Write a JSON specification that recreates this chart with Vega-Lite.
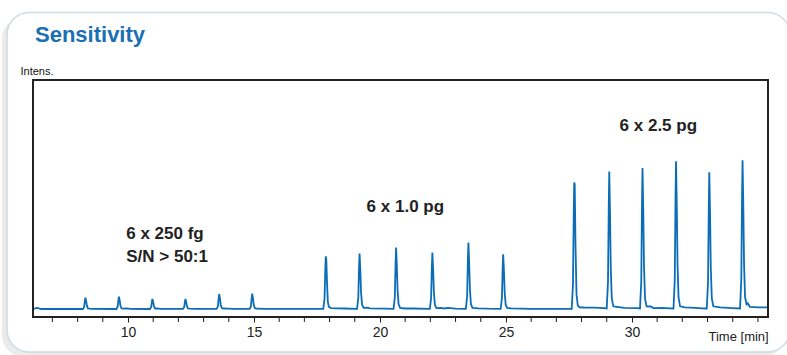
{
  "$schema": "https://vega.github.io/schema/vega-lite/v6.json",
  "autosize": {"type": "none"},
  "width": 735,
  "height": 237,
  "padding": {"left": 33, "top": 80, "right": 19, "bottom": 38},
  "background": "white",
  "title": {
    "text": "Sensitivity",
    "anchor": "start",
    "frame": "group",
    "font": "Liberation Sans",
    "fontSize": 22,
    "fontWeight": "bold",
    "color": "#1a6fb5",
    "baseline": "alphabetic",
    "dx": 2,
    "offset": 0,
    "dy": 52
  },
  "config": {
    "view": {"stroke": null},
    "font": "Liberation Sans",
    "axisX": {
      "domain": false, "grid": false,
      "tickColor": "#222222", "tickSize": 5, "tickWidth": 1,
      "labelFontSize": 14, "labelColor": "#222222", "labelPadding": 3,
      "labelFlush": false, "labelBound": false,
      "titleFontSize": 13, "titleFontWeight": "normal", "titleColor": "#222222",
      "titleX": 675, "titleY": 23, "titleAlign": "left", "titleBaseline": "alphabetic", "titleAnchor": null
    },
    "axisY": {
      "labels": false, "ticks": false, "domain": false, "grid": false,
      "titleFontSize": 11, "titleFontWeight": "normal", "titleColor": "#111111",
      "titleAngle": 0, "titleX": -13, "titleY": -6, "titleAlign": "left", "titleBaseline": "alphabetic"
    }
  },
  "datasets": {
    "chrom": [
      {"t": 6.23, "i": 0.5}, {"t": 6.32, "i": 1.0}, {"t": 6.38, "i": 1.4}, {"t": 6.46, "i": 0.9}, {"t": 6.55, "i": 0.3}, {"t": 7.5, "i": 0.3},
      {"t": 8.21, "i": 0.3}, {"t": 8.26, "i": 2.3}, {"t": 8.29, "i": 8.8}, {"t": 8.31, "i": 11.7}, {"t": 8.34, "i": 8.2}, {"t": 8.37, "i": 3.5}, {"t": 8.41, "i": 0.9}, {"t": 8.47, "i": 0.6}, {"t": 8.6, "i": 0.4},
      {"t": 9.54, "i": 0.3}, {"t": 9.59, "i": 2.5}, {"t": 9.62, "i": 9.5}, {"t": 9.64, "i": 12.7}, {"t": 9.67, "i": 8.9}, {"t": 9.7, "i": 3.8}, {"t": 9.74, "i": 1.0}, {"t": 9.8, "i": 0.7}, {"t": 9.95, "i": 1.0}, {"t": 10.1, "i": 0.4},
      {"t": 10.87, "i": 0.3}, {"t": 10.92, "i": 2.1}, {"t": 10.95, "i": 7.7}, {"t": 10.97, "i": 10.3}, {"t": 11.0, "i": 7.2}, {"t": 11.03, "i": 3.1}, {"t": 11.07, "i": 0.8}, {"t": 11.13, "i": 0.9}, {"t": 11.3, "i": 0.4},
      {"t": 12.18, "i": 0.4}, {"t": 12.23, "i": 2.1}, {"t": 12.26, "i": 7.7}, {"t": 12.28, "i": 10.3}, {"t": 12.31, "i": 7.2}, {"t": 12.34, "i": 3.1}, {"t": 12.38, "i": 0.8}, {"t": 12.44, "i": 0.6}, {"t": 12.7, "i": 0.5},
      {"t": 13.52, "i": 0.4}, {"t": 13.57, "i": 3.1}, {"t": 13.6, "i": 11.5}, {"t": 13.62, "i": 15.3}, {"t": 13.65, "i": 10.7}, {"t": 13.68, "i": 4.6}, {"t": 13.72, "i": 1.2}, {"t": 13.78, "i": 0.8}, {"t": 13.95, "i": 0.7}, {"t": 14.2, "i": 0.4},
      {"t": 14.83, "i": 0.4}, {"t": 14.88, "i": 3.1}, {"t": 14.91, "i": 11.8}, {"t": 14.93, "i": 15.7}, {"t": 14.96, "i": 11.0}, {"t": 14.99, "i": 4.7}, {"t": 15.03, "i": 1.3}, {"t": 15.09, "i": 0.6}, {"t": 15.5, "i": 0.4}, {"t": 17.0, "i": 0.4},
      {"t": 17.75, "i": 0.4}, {"t": 17.8, "i": 10.6}, {"t": 17.83, "i": 39.8}, {"t": 17.85, "i": 53}, {"t": 17.87, "i": 50}, {"t": 17.9, "i": 26}, {"t": 17.93, "i": 8}, {"t": 17.97, "i": 2.5}, {"t": 18.05, "i": 1.2}, {"t": 18.3, "i": 1.0}, {"t": 18.6, "i": 0.8},
      {"t": 19.09, "i": 0.5}, {"t": 19.14, "i": 11}, {"t": 19.17, "i": 42}, {"t": 19.19, "i": 55.7}, {"t": 19.22, "i": 39}, {"t": 19.25, "i": 16.7}, {"t": 19.29, "i": 4.5}, {"t": 19.35, "i": 1.5}, {"t": 19.5, "i": 1.6}, {"t": 19.6, "i": 1.0}, {"t": 20.2, "i": 0.6},
      {"t": 20.54, "i": 0.5}, {"t": 20.59, "i": 12.3}, {"t": 20.62, "i": 46}, {"t": 20.64, "i": 61.7}, {"t": 20.67, "i": 43}, {"t": 20.7, "i": 18.5}, {"t": 20.74, "i": 4.9}, {"t": 20.8, "i": 1.4}, {"t": 21.0, "i": 0.8}, {"t": 21.3, "i": 0.8},
      {"t": 21.98, "i": 0.5}, {"t": 22.03, "i": 11.3}, {"t": 22.06, "i": 42.5}, {"t": 22.08, "i": 56.7}, {"t": 22.11, "i": 39.7}, {"t": 22.14, "i": 17}, {"t": 22.18, "i": 4.5}, {"t": 22.24, "i": 1.2}, {"t": 22.45, "i": 1.5}, {"t": 22.55, "i": 0.8}, {"t": 22.7, "i": 1.4}, {"t": 23.0, "i": 0.6},
      {"t": 23.41, "i": 0.5}, {"t": 23.46, "i": 13.3}, {"t": 23.49, "i": 50}, {"t": 23.51, "i": 66.7}, {"t": 23.54, "i": 46.7}, {"t": 23.57, "i": 20}, {"t": 23.61, "i": 5.3}, {"t": 23.67, "i": 1.5}, {"t": 23.9, "i": 1.0}, {"t": 24.3, "i": 0.6},
      {"t": 24.79, "i": 0.5}, {"t": 24.84, "i": 11}, {"t": 24.87, "i": 41}, {"t": 24.89, "i": 55}, {"t": 24.92, "i": 38.5}, {"t": 24.95, "i": 16.5}, {"t": 24.99, "i": 4.4}, {"t": 25.05, "i": 1.4}, {"t": 25.2, "i": 0.9}, {"t": 26.0, "i": 0.5}, {"t": 27.0, "i": 0.5}, {"t": 27.5, "i": 0.5},
      {"t": 27.61, "i": 0.5}, {"t": 27.66, "i": 25}, {"t": 27.69, "i": 95}, {"t": 27.71, "i": 126.7}, {"t": 27.73, "i": 125}, {"t": 27.76, "i": 65}, {"t": 27.8, "i": 15}, {"t": 27.85, "i": 4}, {"t": 27.92, "i": 2}, {"t": 28.1, "i": 1.8}, {"t": 28.5, "i": 1.6}, {"t": 28.9, "i": 1.2},
      {"t": 29.0, "i": 0.8}, {"t": 29.05, "i": 27.5}, {"t": 29.08, "i": 103}, {"t": 29.1, "i": 137.7}, {"t": 29.13, "i": 96}, {"t": 29.16, "i": 41}, {"t": 29.2, "i": 11}, {"t": 29.26, "i": 3}, {"t": 29.4, "i": 2.5}, {"t": 29.7, "i": 1.5}, {"t": 30.2, "i": 1.2},
      {"t": 30.32, "i": 0.8}, {"t": 30.37, "i": 28}, {"t": 30.4, "i": 106}, {"t": 30.42, "i": 141.3}, {"t": 30.45, "i": 99}, {"t": 30.48, "i": 42}, {"t": 30.52, "i": 11}, {"t": 30.58, "i": 3}, {"t": 30.75, "i": 2.8}, {"t": 30.85, "i": 1.2}, {"t": 31.2, "i": 1.5}, {"t": 31.5, "i": 1.0},
      {"t": 31.65, "i": 0.8}, {"t": 31.7, "i": 29.6}, {"t": 31.73, "i": 111}, {"t": 31.75, "i": 148}, {"t": 31.78, "i": 103.6}, {"t": 31.81, "i": 44.4}, {"t": 31.85, "i": 11.8}, {"t": 31.91, "i": 3}, {"t": 32.1, "i": 2}, {"t": 32.5, "i": 1.5}, {"t": 32.8, "i": 1.0},
      {"t": 32.97, "i": 0.8}, {"t": 33.02, "i": 27.4}, {"t": 33.05, "i": 103}, {"t": 33.07, "i": 137}, {"t": 33.1, "i": 96}, {"t": 33.13, "i": 41}, {"t": 33.17, "i": 11}, {"t": 33.23, "i": 3}, {"t": 33.5, "i": 2}, {"t": 34.0, "i": 1.2},
      {"t": 34.29, "i": 0.8}, {"t": 34.34, "i": 29.8}, {"t": 34.37, "i": 112}, {"t": 34.39, "i": 149}, {"t": 34.42, "i": 104}, {"t": 34.45, "i": 44.7}, {"t": 34.49, "i": 12}, {"t": 34.55, "i": 5}, {"t": 34.6, "i": 6}, {"t": 34.68, "i": 2.5}, {"t": 35.0, "i": 2.0}, {"t": 35.4, "i": 2.0}
    ],
    "labels": [
      {"t": 9.93, "i": 70, "label": "6 x 250 fg"},
      {"t": 9.93, "i": 47.3, "label": "S/N > 50:1"},
      {"t": 19.47, "i": 97.3, "label": "6 x 1.0 pg"},
      {"t": 29.51, "i": 178.3, "label": "6 x 2.5 pg"}
    ],
    "minor": [
      {"t": 7}, {"t": 8}, {"t": 9}, {"t": 11}, {"t": 12}, {"t": 13}, {"t": 14}, {"t": 16}, {"t": 17}, {"t": 18}, {"t": 19},
      {"t": 21}, {"t": 22}, {"t": 23}, {"t": 24}, {"t": 26}, {"t": 27}, {"t": 28}, {"t": 29}, {"t": 31}, {"t": 32}, {"t": 33}, {"t": 34}, {"t": 35}
    ],
    "box": [{"x0": 5.2, "x1": 36.27, "y0": 296.8, "y1": -42.7}],
    "shadow": [{"x0": 5.0, "x1": 36.07, "y0": 292.3, "y1": -47.7}],
    "frame": [{"x0": 6.23, "x1": 35.4, "y0": 229.3, "y1": -7.7}]
  },
  "layer": [
    {
      "data": {"name": "shadow"},
      "mark": {"type": "rect", "fill": "#ebebeb", "cornerRadius": 22, "clip": false},
      "encoding": {
        "x": {"field": "x0", "type": "quantitative", "title": "Time [min]", "scale": {"domain": [6.23, 35.4], "nice": false, "zero": false}},
        "x2": {"field": "x1"},
        "y": {"field": "y0", "type": "quantitative", "title": "Intens.", "scale": {"domain": [-7.7, 229.3], "nice": false, "zero": false}},
        "y2": {"field": "y1"}
      }
    },
    {
      "data": {"name": "box"},
      "mark": {"type": "rect", "fill": "white", "stroke": "#d0dbe3", "strokeWidth": 1.5, "cornerRadius": 22, "clip": false},
      "encoding": {
        "x": {"field": "x0", "type": "quantitative", "title": "Time [min]", "scale": {"domain": [6.23, 35.4], "nice": false, "zero": false}},
        "x2": {"field": "x1"},
        "y": {"field": "y0", "type": "quantitative", "title": "Intens.", "scale": {"domain": [-7.7, 229.3], "nice": false, "zero": false}},
        "y2": {"field": "y1"}
      }
    },
    {
      "data": {"name": "minor"},
      "mark": {"type": "rule", "color": "#222222", "strokeWidth": 1, "clip": false},
      "encoding": {
        "x": {"field": "t", "type": "quantitative", "title": "Time [min]", "scale": {"domain": [6.23, 35.4], "nice": false, "zero": false}},
        "y": {"datum": -7.7, "type": "quantitative", "scale": {"domain": [-7.7, 229.3], "nice": false, "zero": false}},
        "y2": {"datum": -12.7}
      }
    },
    {
      "data": {"name": "chrom"},
      "mark": {"type": "line", "color": "#0b6db7", "strokeWidth": 1.8, "clip": true},
      "encoding": {
        "x": {
          "field": "t", "type": "quantitative", "title": "Time [min]",
          "scale": {"domain": [6.23, 35.4], "nice": false, "zero": false},
          "axis": {
            "zindex": 2,
            "labelFlush": false, "labelBound": false,
            "labelFontSize": 14,
            "values": [10, 15, 20, 25, 30]
          }
        },
        "y": {
          "field": "i", "type": "quantitative", "title": "Intens.",
          "scale": {"domain": [-7.7, 229.3], "nice": false, "zero": false},
          "axis": {"zindex": 2}
        }
      }
    },
    {
      "data": {"name": "labels"},
      "mark": {"type": "text", "align": "left", "baseline": "alphabetic", "fontSize": 17, "fontWeight": "bold", "color": "#222222", "clip": false},
      "encoding": {
        "x": {"field": "t", "type": "quantitative", "title": "Time [min]", "scale": {"domain": [6.23, 35.4], "nice": false, "zero": false}},
        "y": {"field": "i", "type": "quantitative", "title": "Intens.", "scale": {"domain": [-7.7, 229.3], "nice": false, "zero": false}},
        "text": {"field": "label"}
      }
    },
    {
      "data": {"name": "frame"},
      "mark": {"type": "rect", "fill": null, "fillOpacity": 0, "stroke": "#222222", "strokeWidth": 2, "clip": false},
      "encoding": {
        "x": {"field": "x0", "type": "quantitative", "title": "Time [min]", "scale": {"domain": [6.23, 35.4], "nice": false, "zero": false}},
        "x2": {"field": "x1"},
        "y": {"field": "y0", "type": "quantitative", "title": "Intens.", "scale": {"domain": [-7.7, 229.3], "nice": false, "zero": false}},
        "y2": {"field": "y1"}
      }
    }
  ]
}
